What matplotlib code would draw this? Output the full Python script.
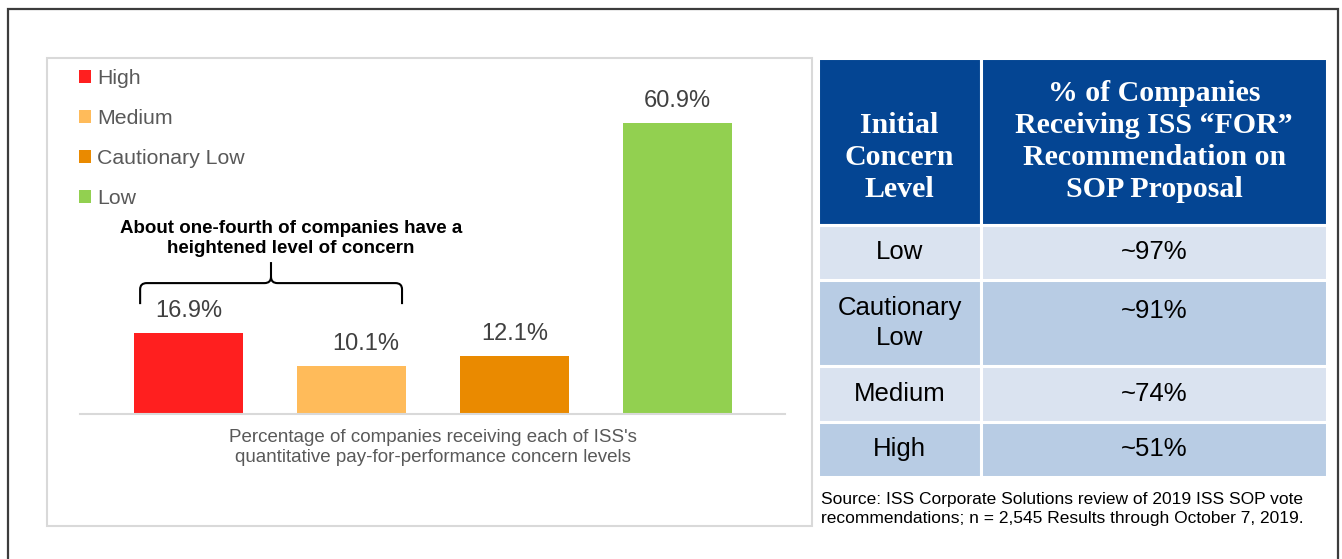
"""ISS pay-for-performance concern levels: bar chart plus SOP recommendation table."""

import matplotlib

matplotlib.use("Agg")
import matplotlib.pyplot as plt
from matplotlib.patches import Patch, PathPatch, Rectangle
from matplotlib.path import Path

# ---- data -------------------------------------------------------------
levels = ["High", "Medium", "Cautionary Low", "Low"]
shares = [16.9, 10.1, 12.1, 60.9]
bar_colors = ["#FF1F1F", "#FFBB5A", "#EA8A00", "#92D050"]

table_header = ["Initial\nConcern\nLevel", "% of Companies\nReceiving ISS \u201cFOR\u201d\nRecommendation on\nSOP Proposal"]
table_levels = ["Low", "Cautionary\nLow", "Medium", "High"]
table_for_pct = ["~97%", "~91%", "~74%", "~51%"]

annotation = "About one-fourth of companies have a\nheightened level of concern"
axis_title = ("Percentage of companies receiving each of ISS's\n"
              "quantitative pay-for-performance concern levels")
source = ("Source: ISS Corporate Solutions review of 2019 ISS SOP vote\n"
          "recommendations; n = 2,545 Results through October 7, 2019.")

# ---- layout helpers (pixels -> figure fraction) -----------------------
W, H = 1342, 559
plt.rcParams["font.family"] = ["Liberation Sans", "DejaVu Sans"]


def fx(px):
    return px / W


def fy(py):
    return 1 - py / H


fig = plt.figure(figsize=(W / 100, H / 100), dpi=100)

# outer frame (open at the bottom) and the chart panel
fig.add_artist(Rectangle((fx(7.5), -0.2), fx(1338) - fx(7.5), fy(9) + 0.2,
                         transform=fig.transFigure, fill=False,
                         edgecolor="#3C3C3C", lw=1.6))
fig.add_artist(Rectangle((fx(47), fy(526)), fx(812) - fx(47), fy(58) - fy(526),
                         transform=fig.transFigure, fill=False,
                         edgecolor="#D9D9D9", lw=1.5))

# ---- bar chart --------------------------------------------------------
ax = fig.add_axes([fx(80), fy(414), fx(785) - fx(80), fy(60) - fy(414)])
x = range(len(levels))
bars = ax.bar(x, shares, width=0.669, color=bar_colors)
value_labels = ax.bar_label(bars, labels=[f"{v:.1f}%" for v in shares],
                            padding=8, fontsize=17, color="#404040")
value_labels[1].xyann = (10, 8)  # the Medium label sits a little right of centre
ax.set_xlim(-0.666, 3.66)
ax.set_ylim(0, 74.1)
ax.set_xticks([])
ax.set_yticks([])
for side in ("top", "left", "right"):
    ax.spines[side].set_visible(False)
ax.spines["bottom"].set_color("#D9D9D9")
ax.spines["bottom"].set_linewidth(1.5)
ax.patch.set_alpha(0)

handles = [Patch(facecolor=c, edgecolor="none") for c in bar_colors]
ax.legend(handles, levels, loc="upper left", bbox_to_anchor=(fx(79), fy(69)),
          bbox_transform=fig.transFigure, frameon=False, fontsize=15.3,
          labelcolor="#595959", handlelength=0.55, handleheight=0.55,
          handletextpad=0.3, labelspacing=0.99, borderpad=0, borderaxespad=0)

# brace over the High / Medium bars
xl, xm, xr = -0.297, 0.506, 1.31
y_end, y_bar, y_tip = 23.0, 27.4, 31.8
rx, ry = 0.04, 1.3
verts = [(xl, y_end), (xl, y_bar - ry), (xl, y_bar), (xl + rx, y_bar),
         (xm - rx, y_bar), (xm, y_bar), (xm, y_bar + ry), (xm, y_tip),
         (xm, y_bar + ry), (xm, y_bar), (xm + rx, y_bar),
         (xr - rx, y_bar), (xr, y_bar), (xr, y_bar - ry), (xr, y_end)]
codes = [Path.MOVETO, Path.LINETO, Path.CURVE3, Path.CURVE3,
         Path.LINETO, Path.CURVE3, Path.CURVE3, Path.LINETO,
         Path.MOVETO, Path.CURVE3, Path.CURVE3,
         Path.LINETO, Path.CURVE3, Path.CURVE3, Path.LINETO]
ax.add_patch(PathPatch(Path(verts, codes), fill=False, edgecolor="black",
                       lw=1.5, clip_on=False))
ax.text(0.629, 36.7, annotation, ha="center", va="center", fontsize=13.5,
        fontweight="bold", color="black", linespacing=1.2)

fig.text(fx(432.5), fy(447.5), axis_title, ha="center", va="center",
         fontsize=13.5, color="#595959", linespacing=1.25)

# ---- table ------------------------------------------------------------
tax = fig.add_axes([fx(818), fy(477), fx(1327) - fx(818), fy(58) - fy(477)])
tax.axis("off")
cell_text = [[lvl, pct] for lvl, pct in zip(table_levels, table_for_pct)]
# the left header is pushed down one line, like in the source slide
header = ["\n" + table_header[0], table_header[1]]
tbl = tax.table(cellText=cell_text, colLabels=header,
                cellLoc="center", bbox=[0, 0, 1, 1])
tbl.auto_set_font_size(False)
row_heights = [166, 55, 86, 55, 55]
col_widths = [162.5, 344.5]
row_fill = ["#DAE3F0", "#B8CCE4"]
for (r, c), cell in tbl.get_celld().items():
    cell.set_height(row_heights[r])
    cell.set_width(col_widths[c])
    cell.set_edgecolor("white")
    cell.set_linewidth(2.2)
    txt = cell.get_text()
    if r == 0:
        cell.set_facecolor("#044593")
        txt.set_color("white")
        txt.set_fontfamily(["Liberation Serif", "DejaVu Serif"])
        txt.set_fontweight("bold")
        txt.set_fontsize(21.5)
        txt.set_linespacing(1.25)
    else:
        cell.set_facecolor(row_fill[(r - 1) % 2])
        txt.set_color("black")
        txt.set_fontsize(18.5)
        txt.set_linespacing(1.3)
        if r == 2 and c == 1:
            # single-line value lines up with the first line of its neighbour
            txt.set_verticalalignment("bottom")

fig.text(fx(821), fy(509), source, ha="left", va="center", fontsize=12.5,
         color="black", linespacing=1.3)

fig.savefig("out.png", dpi=100)
